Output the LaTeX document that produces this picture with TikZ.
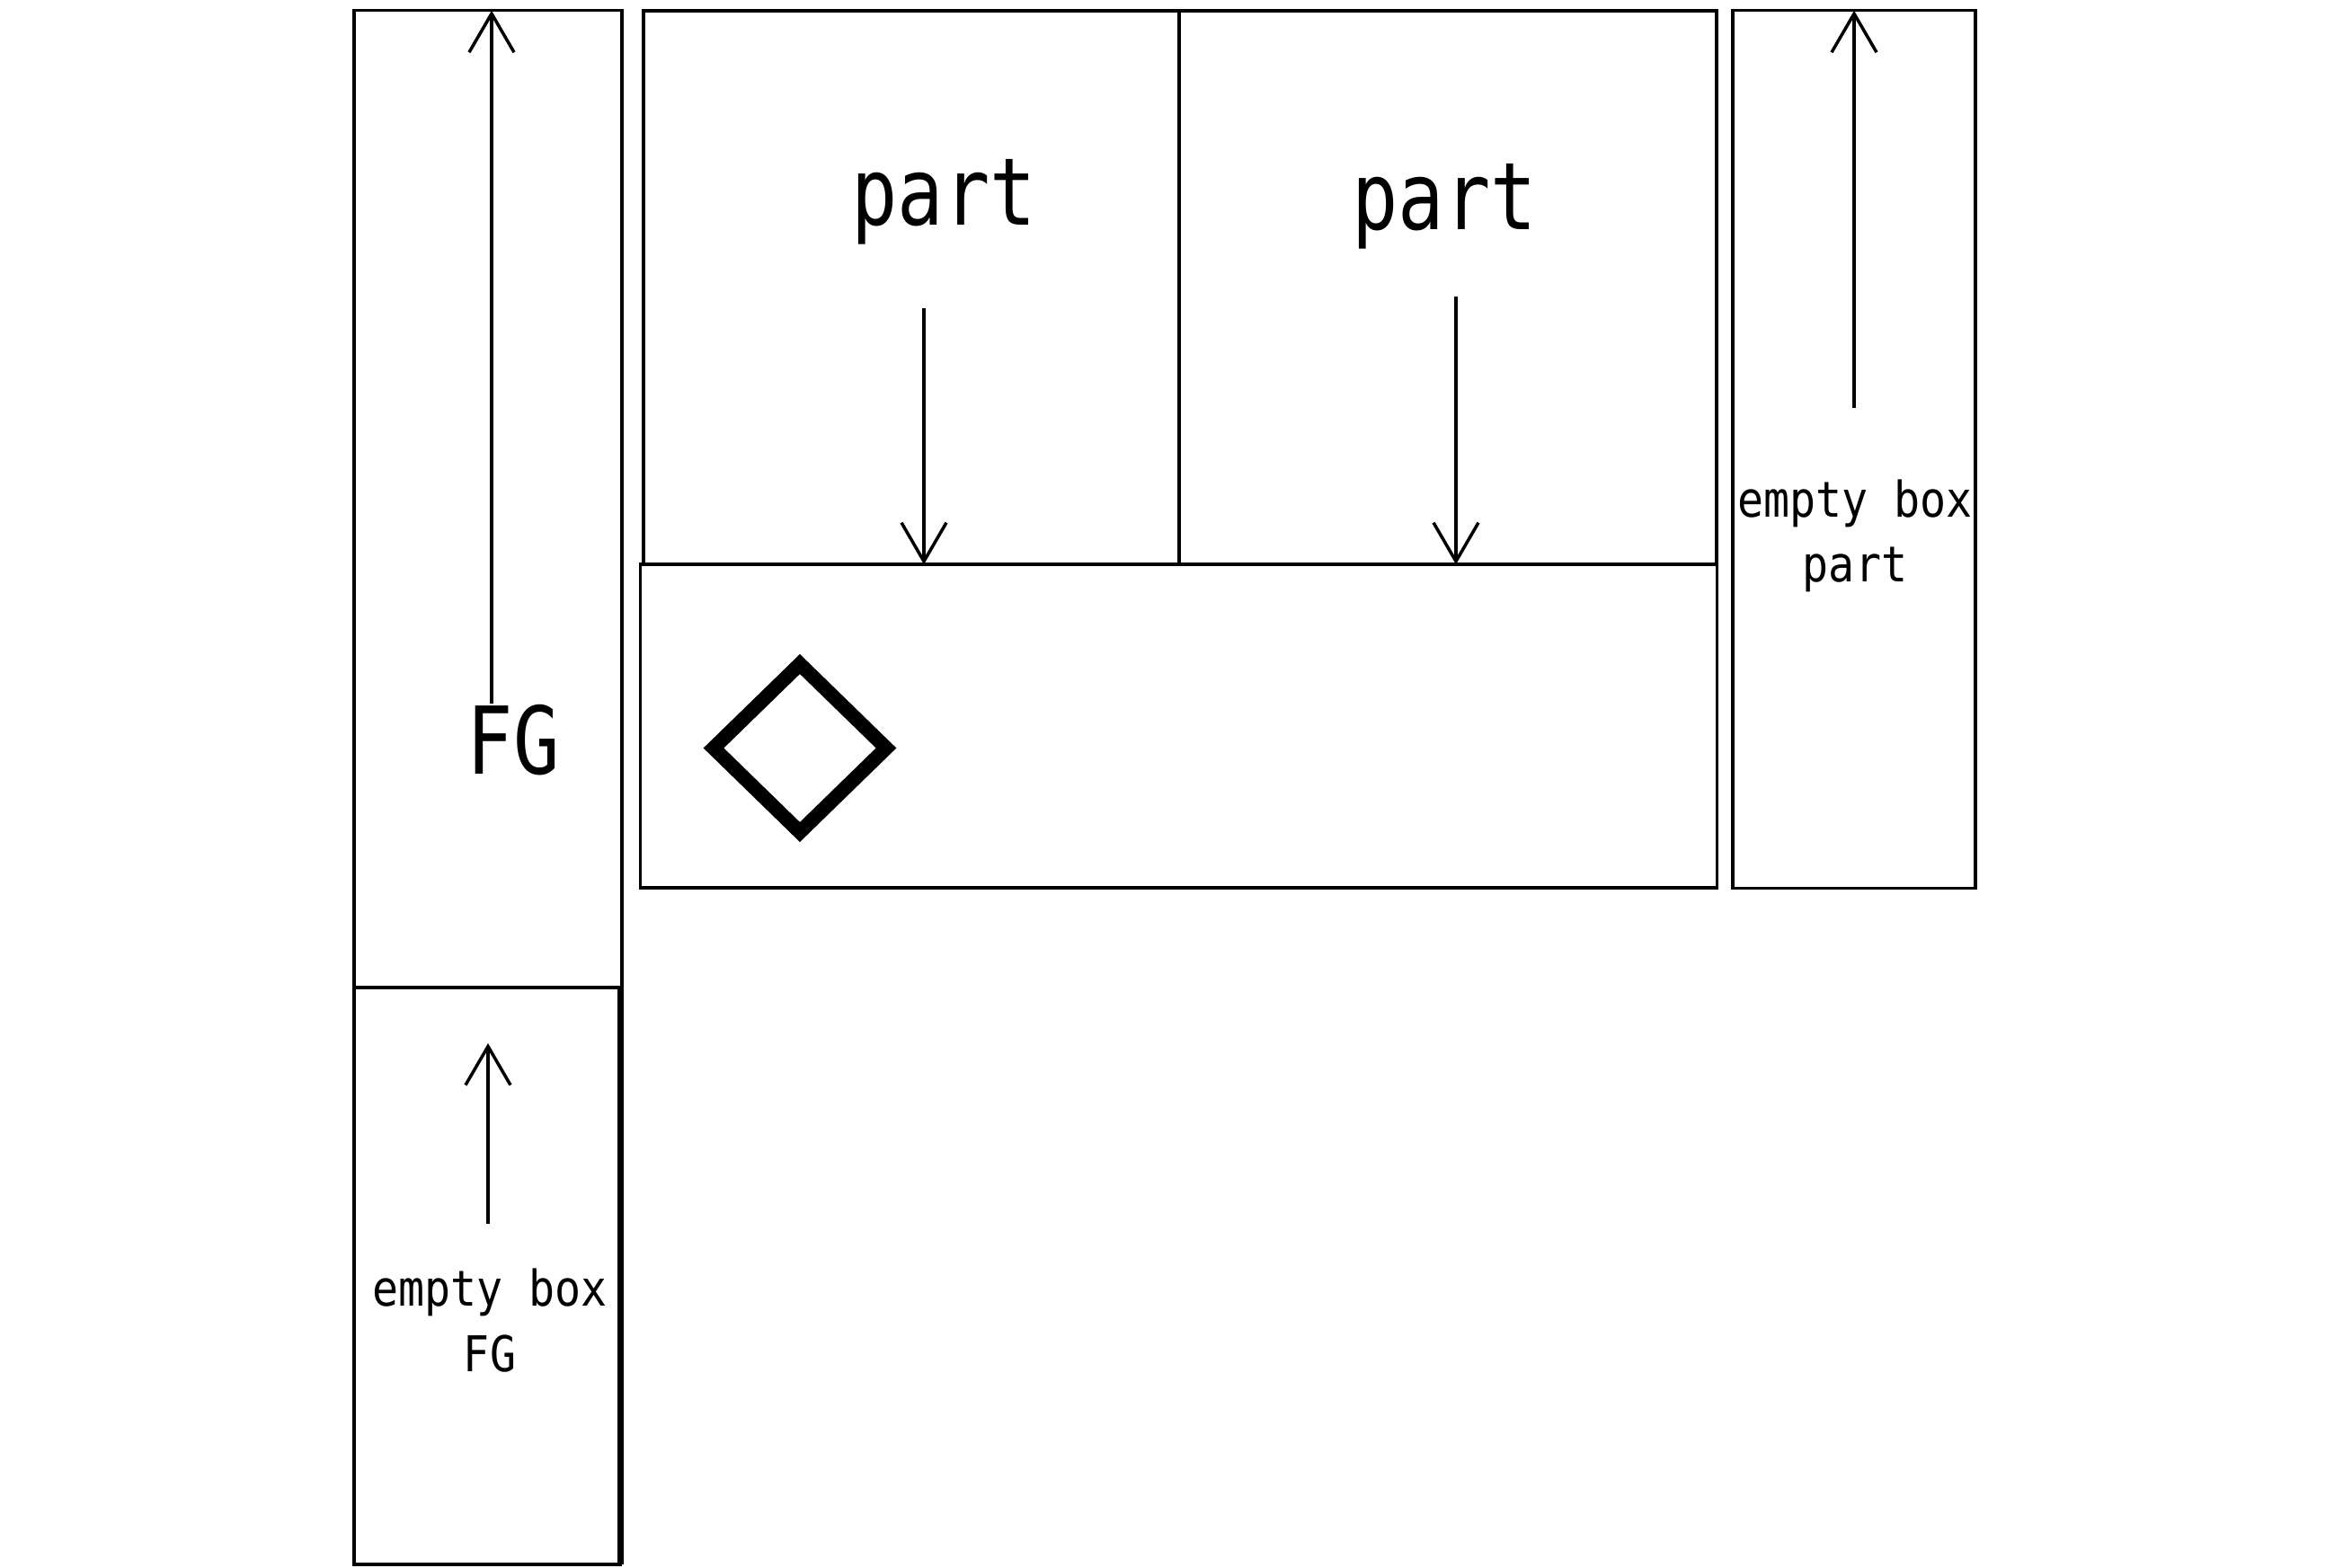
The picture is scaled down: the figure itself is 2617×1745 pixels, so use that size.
\documentclass[tikz,border=0pt]{standalone}
\usepackage{fontspec}
\usetikzlibrary{arrows.meta}
\newfontfamily\bigfont[FakeStretch=0.82]{DejaVu Sans Mono}
\newfontfamily\smallfont[FakeStretch=0.88]{DejaVu Sans Mono}
\begin{document}
\begin{tikzpicture}[x=0.01cm,y=-0.01cm,
  box/.style={draw=black,line width=1pt,inner sep=0pt,outer sep=0pt,rectangle},
  arr/.style={draw=black,line width=1pt,-{Straight Barb[length=0.43cm,width=0.5cm,line width=1pt]}},
  bigtxt/.style={inner sep=0pt,anchor=base,font=\bigfont\fontsize{29.6}{30}\selectfont},
  smalltxt/.style={inner sep=0pt,anchor=base,font=\smallfont\fontsize{15.6}{16}\selectfont},
  diam/.style={draw=black,line width=4.5pt,miter limit=10}]
\fill[white] (0,0) rectangle (2617,1745);
\useasboundingbox (0,0) rectangle (2617,1745);
% boxes
\node[box,minimum width=2.98cm,minimum height=10.87cm] (upL) at (543,555.5) {};
\node[box,minimum width=2.96cm,minimum height=6.42cm] (lowL) at (542,1420) {};
\draw[line width=2pt] (lowL.north east) -- (lowL.south east);
\node[box,minimum width=5.96cm,minimum height=6.16cm] (topA) at (1014,320) {};
\node[box,minimum width=5.98cm,minimum height=6.16cm] (topB) at (1611,320) {};
\node[box,minimum width=11.97cm,minimum height=3.60cm] (bot) at (1311.5,808) {};
\node[box,minimum width=2.70cm,minimum height=9.76cm] (rbox) at (2063,500) {};
% diamond
\draw[diam] (890,739) -- (986,832.5) -- (890,926) -- (794,832.5) -- cycle;
% texts
\node[bigtxt] (fg) at (571,861) {FG};
\node[bigtxt] (partA) at (1050,250) {part};
\node[bigtxt] (partB) at (1607,255) {part};
\node[smalltxt] (ebL) at (545,1453) {empty box};
\node[smalltxt] (fgL) at (545,1526) {FG};
\node[smalltxt] (ebR) at (2064,575) {empty box};
\node[smalltxt] (partR) at (2064,647) {part};
% arrow start points
\coordinate (s1) at (547,783);
\coordinate (s2) at (543,1362);
\coordinate (e2) at (543,1161);
\coordinate (s3) at (1028,343);
\coordinate (s4) at (1620,330);
\coordinate (s5) at (2063,454);
% arrows
\draw[arr] (s1) -- (s1 |- upL.north);
\draw[arr] (s2) -- (e2);
\draw[arr] (s3) -- (s3 |- topA.south);
\draw[arr] (s4) -- (s4 |- topB.south);
\draw[arr] (s5) -- (s5 |- rbox.north);
\end{tikzpicture}
\end{document}
